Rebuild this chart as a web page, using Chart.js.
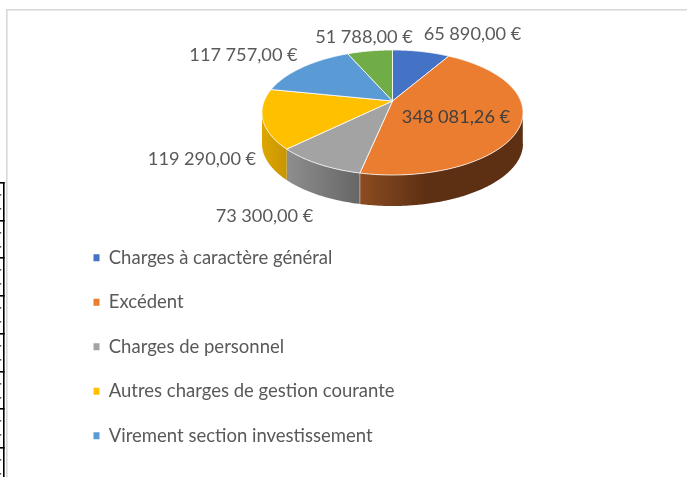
<!DOCTYPE html>
<html lang="fr">
<head>
<meta charset="utf-8">
<style>html,body{margin:0;padding:0;background:#fff;overflow:hidden}canvas{display:block}</style>
<script src="https://cdn.jsdelivr.net/npm/chart.js@4/dist/chart.umd.min.js"></script>
</head>
<body>
<canvas id="c" width="687" height="477"></canvas>
<script>
const categories = ["Charges à caractère général","Excédent","Charges de personnel","Autres charges de gestion courante","Virement section investissement","Dotations"];
const values = [65890, 348081.26, 73300, 119290, 117757, 51788];
const topColors = ["#4472C4","#EB7D31","#A3A3A3","#FFC000","#5B9BD5","#70AD47"];
const wallStops = [["#2f5597","#2f5597"],["#8C4C21","#5E3013"],["#8E8E8E","#666666"],["#DDA600","#C99500"],["#3f77a8","#3f77a8"],["#4e7a32","#4e7a32"]];
const labelCenters = [[472.5,34],[456,117],[264.5,216],[202,159],[243.5,55],[364,37]];
const labelColors = ["#595959","#404040","#595959","#595959","#595959","#595959"];
const tableRuleYs = [182,220,257,295,333,371,408,447];

const FONT = "Lato, Carlito, sans-serif";
const P = {cx:392.5, cy:101, A:128.3, B:60.4, k:0.184, depth:31};

function project(theta, drop){
  const u = Math.sin(theta), v = -Math.cos(theta), w = 1 - P.k*v;
  return [P.cx + P.A*u/w, P.cy + P.B*v/w + (drop||0)];
}
function fmt(n){
  const [a,b] = n.toFixed(2).split(".");
  return a.replace(/\B(?=(\d{3})+$)/g,"\u202F") + "," + b + "\u00A0€";
}
const pie3d = {
  id:"pie3d",
  beforeDraw(chart){
    const c = chart.ctx;
    c.save();
    c.fillStyle="#fff"; c.fillRect(0,0,chart.width,chart.height);
    c.fillStyle="#D9D9D9";
    c.fillRect(6,9,1.6,chart.height-9);
    c.fillRect(6,9,chart.width-6,1.6);
    c.fillStyle="#000";
    c.fillRect(3,182,1.6,chart.height-182);
    tableRuleYs.forEach(y=>{
      c.fillRect(0,y,4.6,1.6);
      c.fillStyle="#555";
      c.fillRect(0,y+12,1.2,1.6); c.fillRect(0,y+26,1.2,1.6);
      c.fillStyle="#000";
    });
    c.restore();
  },
  afterLayout(chart){
    const l = chart.legend, w = l.right-l.left, h = l.bottom-l.top;
    l.left = 67.5; l.right = 67.5+w; l.top = 222.5; l.bottom = 222.5+h;
  },
  beforeDatasetsDraw(chart){
    const c = chart.ctx, arcs = chart.getDatasetMeta(0).data;
    const off = Math.PI/2;
    const silA = Math.acos(-P.k), silB = 2*Math.PI - silA;
    c.save();
    c.lineJoin="round";
    arcs.forEach((arc,i)=>{
      const a0 = Math.max(arc.startAngle+off, silA), a1 = Math.min(arc.endAngle+off, silB);
      if(a1<=a0) return;
      const n = Math.ceil((a1-a0)*90);
      const pts=[];
      for(let j=0;j<=n;j++) pts.push(a0+(a1-a0)*j/n);
      const xs = pts.map(t=>project(t)[0]);
      const g = c.createLinearGradient(Math.max(...xs),0,Math.min(...xs),0);
      if(i===1){ g.addColorStop(0,wallStops[i][1]); g.addColorStop(.6,wallStops[i][1]); g.addColorStop(1,wallStops[i][0]); }
      else { g.addColorStop(0,wallStops[i][1]); g.addColorStop(1,wallStops[i][0]); }
      c.beginPath();
      pts.forEach((t,j)=>{const p=project(t); j?c.lineTo(p[0],p[1]):c.moveTo(p[0],p[1]);});
      pts.slice().reverse().forEach(t=>{const p=project(t,P.depth); c.lineTo(p[0],p[1]);});
      c.closePath();
      c.fillStyle=g; c.fill();
      c.strokeStyle="rgba(255,255,255,.55)"; c.lineWidth=.8;
      c.beginPath();
      const e=project(a0), f=project(a0,P.depth);
      if(i!==3){ c.moveTo(e[0],e[1]); c.lineTo(f[0],f[1]); c.stroke(); }
    });
    arcs.forEach((arc,i)=>{
      const a0=arc.startAngle+off, a1=arc.endAngle+off;
      const n=Math.ceil((a1-a0)*90);
      c.beginPath();
      c.moveTo(P.cx,P.cy);
      for(let j=0;j<=n;j++){const p=project(a0+(a1-a0)*j/n); c.lineTo(p[0],p[1]);}
      c.closePath();
      c.fillStyle=arc.options.backgroundColor; c.fill();
      c.strokeStyle="rgba(255,255,255,.8)"; c.lineWidth=1; c.stroke();
    });
    c.restore();
    return false;
  },
  afterDraw(chart){
    const c=chart.ctx;
    c.save();
    c.font="18.2px "+FONT; c.textAlign="center"; c.textBaseline="middle";
    values.forEach((v,i)=>{
      c.fillStyle=labelColors[i];
      c.fillText(fmt(v),labelCenters[i][0],labelCenters[i][1]);
    });
    c.restore();
  }
};
new Chart(document.getElementById("c"),{
  type:"pie",
  data:{labels:categories,datasets:[{data:values,backgroundColor:topColors,borderWidth:0}]},
  options:{
    responsive:false,animation:false,
    layout:{padding:0},
    plugins:{
      tooltip:{enabled:false},
      legend:{
        position:"left",align:"start",
        labels:{
          boxWidth:6,boxHeight:7,padding:26,color:"#595959",
          font:{family:FONT,size:18.5},
          filter:(item)=>item.index<5
        }
      }
    }
  },
  plugins:[pie3d]
});
</script>
</body>
</html>
